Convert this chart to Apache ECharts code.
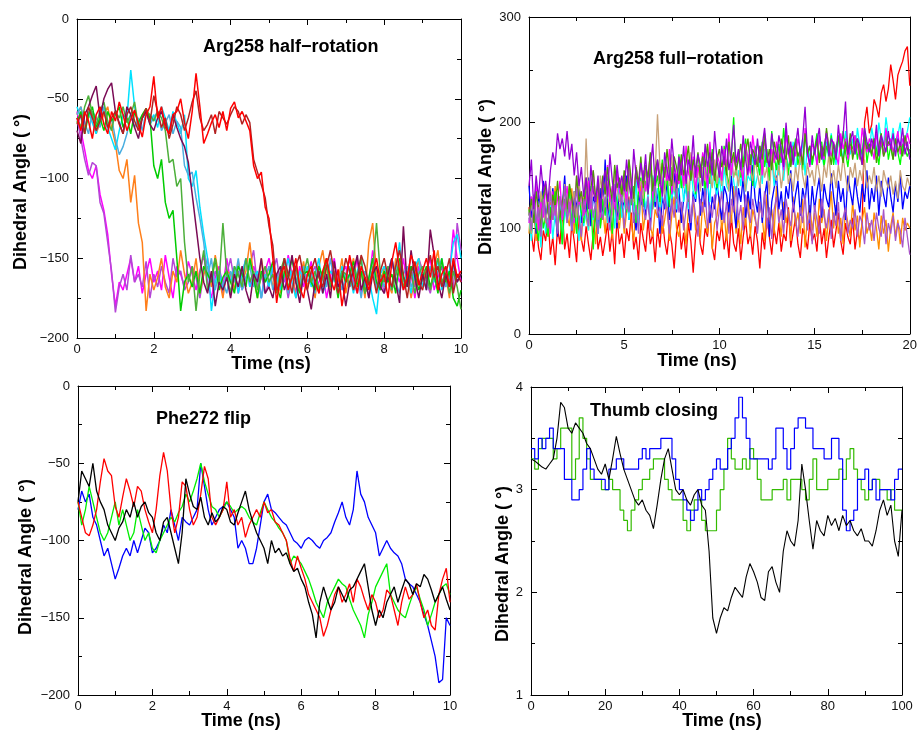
<!DOCTYPE html>
<html><head><meta charset="utf-8">
<script src="https://cdn.jsdelivr.net/npm/echarts@6/dist/echarts.min.js"></script>
<style>html,body{margin:0;padding:0;background:#fff}#c{width:920px;height:732px}</style>
</head><body><div id="c"></div>
<script>
// ---------- Panel 1: Arg258 half-rotation (t = 0..10 ns, step 0.1) ----------
const p1Red = [
-62,-70,-58,-64,-75,-60,-55,-66,-72,-58,
-64,-52,-60,-70,-63,-57,-66,-74,-60,-55,
-36,-62,-55,-68,-72,-60,-58,-50,-65,-75,
-58,-34,-55,-78,-72,-65,-60,-68,-58,-70,
-56,-52,-62,-58,-64,-70,-92,-100,-96,-118,
-125,-150,-178,-160,-155,-170,-162,-150,-168,-175,
-160,-155,-165,-172,-158,-150,-163,-170,-157,-180,
-165,-148,-160,-172,-155,-162,-170,-158,-150,-165,
-160,-175,-152,-140,-158,-170,-162,-148,-155,-167,
-158,-150,-162,-145,-170,-160,-155,-168,-150,-162,
-158];
const p1Firebrick = [
-66,-60,-72,-55,-62,-70,-64,-58,-68,-62,
-58,-66,-72,-60,-55,-64,-70,-62,-56,-65,
-48,-58,-68,-62,-75,-66,-55,-60,-70,-62,
-52,-45,-62,-70,-66,-60,-72,-58,-62,-66,
-60,-55,-58,-66,-60,-65,-88,-96,-104,-112,
-130,-142,-170,-165,-150,-160,-172,-155,-148,-162,
-170,-158,-150,-162,-168,-155,-145,-160,-172,-163,
-150,-158,-170,-162,-148,-155,-167,-160,-172,-158,
-150,-162,-168,-155,-145,-160,-175,-158,-152,-165,
-170,-158,-148,-162,-155,-168,-160,-150,-172,-160,
-165];
const p1Maroon = [
-70,-78,-60,-55,-48,-42,-62,-50,-44,-40,
-58,-65,-72,-55,-60,-68,-75,-62,-58,-66,
-70,-62,-58,-66,-72,-60,-68,-75,-80,-90,
-110,-130,-150,-165,-172,-158,-180,-165,-170,-162,
-175,-160,-168,-155,-170,-178,-160,-165,-150,-172,
-168,-175,-160,-155,-170,-162,-148,-165,-178,-160,
-170,-182,-165,-158,-172,-160,-175,-152,-168,-163,
-180,-165,-158,-148,-170,-162,-175,-160,-155,-168,
-172,-160,-150,-165,-178,-130,-168,-145,-162,-175,
-160,-170,-132,-148,-165,-175,-160,-168,-152,-165,
-160];
const p1Orange = [
-60,-55,-68,-62,-58,-72,-65,-60,-55,-68,
-78,-95,-100,-88,-115,-98,-128,-140,-183,-160,
-170,-162,-150,-168,-175,-158,-165,-145,-160,-172,
-165,-150,-172,-160,-155,-168,-148,-162,-175,-158,
-160,-170,-152,-165,-158,-140,-162,-175,-150,-165,
-155,-168,-160,-172,-150,-162,-158,-175,-165,-152,
-168,-160,-175,-155,-145,-162,-170,-158,-165,-150,
-172,-160,-150,-165,-158,-175,-140,-128,-160,-168,
-155,-165,-172,-150,-160,-168,-158,-175,-162,-150,
-165,-158,-170,-155,-145,-168,-160,-175,-150,-162,
-160];
const p1Magenta = [
-58,-70,-82,-95,-100,-92,-110,-120,-135,-160,
-180,-165,-170,-160,-150,-165,-155,-172,-160,-150,
-165,-158,-170,-148,-162,-175,-155,-160,-168,-152,
-160,-170,-158,-148,-165,-175,-162,-155,-168,-150,
-165,-158,-172,-160,-150,-168,-155,-162,-175,-158,
-150,-162,-170,-158,-165,-148,-160,-172,-155,-168,
-160,-152,-170,-165,-158,-175,-162,-150,-168,-160,
-155,-168,-162,-150,-172,-158,-165,-145,-160,-170,
-162,-155,-170,-158,-165,-150,-168,-160,-175,-155,
-165,-158,-150,-170,-162,-155,-168,-160,-132,-150,
-165];
const p1Orchid = [
-62,-75,-88,-98,-90,-92,-115,-122,-140,-158,
-184,-168,-160,-170,-148,-165,-160,-168,-152,-175,
-160,-168,-155,-165,-172,-150,-162,-158,-170,-165,
-155,-162,-175,-160,-150,-168,-158,-165,-172,-160,
-150,-165,-158,-170,-162,-155,-145,-168,-160,-172,
-165,-158,-150,-168,-160,-175,-162,-155,-170,-158,
-168,-160,-155,-172,-162,-150,-165,-158,-170,-162,
-160,-150,-165,-172,-158,-162,-175,-155,-168,-160,
-172,-160,-150,-165,-158,-170,-162,-155,-168,-150,
-158,-165,-172,-160,-150,-168,-155,-162,-170,-128,
-145];
const p1Cyan = [
-55,-62,-70,-58,-65,-72,-60,-55,-68,-75,
-82,-70,-60,-62,-32,-55,-68,-62,-58,-65,
-60,-68,-55,-62,-70,-58,-65,-72,-60,-100,
-105,-95,-118,-135,-150,-183,-165,-158,-170,-160,
-165,-155,-172,-160,-150,-168,-162,-158,-175,-160,
-168,-155,-162,-170,-160,-150,-165,-175,-158,-162,
-155,-168,-160,-150,-172,-165,-158,-162,-170,-155,
-165,-160,-172,-158,-150,-168,-162,-175,-185,-160,
-155,-162,-170,-158,-140,-165,-160,-172,-155,-150,
-168,-160,-155,-165,-150,-170,-162,-158,-140,-135,
-150];
const p1SkyBlue = [
-60,-55,-65,-72,-58,-62,-68,-55,-70,-62,
-75,-85,-80,-72,-60,-68,-62,-70,-58,-66,
-62,-58,-70,-65,-60,-72,-64,-68,-92,-98,
-96,-112,-125,-140,-162,-150,-170,-158,-165,-172,
-158,-165,-150,-170,-162,-155,-168,-160,-175,-162,
-155,-170,-160,-165,-150,-172,-158,-162,-168,-155,
-165,-160,-172,-155,-162,-168,-150,-165,-158,-170,
-162,-155,-168,-160,-175,-158,-165,-150,-170,-160,
-168,-158,-150,-165,-172,-160,-155,-168,-162,-158,
-160,-170,-155,-165,-158,-150,-168,-162,-155,-165,
-160];
const p1Green = [
-65,-58,-72,-60,-55,-68,-62,-70,-58,-64,
-60,-55,-68,-62,-72,-58,-65,-60,-56,-62,
-92,-100,-88,-115,-125,-120,-150,-183,-165,-160,
-168,-158,-172,-155,-160,-165,-150,-170,-162,-158,
-165,-172,-155,-160,-168,-150,-162,-175,-158,-165,
-160,-152,-168,-175,-158,-162,-150,-165,-172,-160,
-158,-165,-170,-155,-162,-150,-168,-160,-175,-158,
-165,-160,-152,-168,-158,-172,-162,-150,-165,-170,
-158,-165,-160,-172,-150,-162,-168,-155,-160,-170,
-162,-155,-168,-160,-172,-150,-165,-158,-175,-180,
-170];
const p1SeaGreen = [
-62,-68,-55,-48,-60,-66,-58,-52,-64,-70,
-58,-62,-55,-65,-60,-52,-68,-62,-58,-60,
-64,-58,-62,-70,-90,-88,-105,-100,-140,-165,
-155,-183,-160,-145,-170,-162,-150,-165,-128,-160,
-172,-155,-160,-168,-150,-165,-158,-170,-162,-155,
-165,-160,-172,-158,-150,-168,-162,-155,-170,-160,
-150,-165,-158,-170,-162,-155,-168,-160,-172,-158,
-160,-168,-155,-162,-150,-172,-165,-158,-128,-160,
-165,-155,-170,-160,-152,-168,-162,-158,-172,-160,
-155,-162,-170,-158,-150,-165,-160,-172,-158,-168,
-182];

// ---------- Panel 2: Arg258 full-rotation (t = 0..20 ns, step 0.125) ----------
const p2Red = [
120,95,78,105,82,70,98,88, 110,75,92,65,100,85,118,80,
95,72,105,88,68,112,90,78, 102,85,70,96,115,80,92,74,
88,105,78,98,66,110,85,95, 72,100,88,115,80,92,70,105,
90,78,108,85,95,68,100,82, 112,88,75,98,85,62,95,108,
80,96,72,105,88,58,92,110, 85,75,100,92,118,82,70,98,
88,105,80,95,72,112,86,78, 100,70,92,108,85,95,75,102,
88,62,96,80,110,92,75,100, 85,105,78,95,88,120,82,96,
110,85,72,100,92,80,105,88, 95,78,112,85,100,72,92,108,
82,98,115,88,75,105,92,85, 110,80,98,88,105,200,215,190,
198,222,215,205,228,236,220,232, 255,240,222,245,252,258,268,272,
235];
const p2Orange = [
95,130,118,88,122,100,138,112, 92,125,108,140,98,118,85,128,
112,102,138,95,120,105,88,132, 110,98,125,115,85,140,102,118,
95,128,108,90,135,112,100,125, 95,115,130,105,88,120,110,145,
98,115,128,102,92,118,110,135, 95,108,125,88,112,130,100,92,
122,108,85,118,105,128,98,112, 90,125,108,95,118,80,105,112,
130,98,115,88,125,105,140,95, 112,85,120,102,135,92,118,108,
98,125,110,88,132,105,118,95, 140,112,92,125,105,118,88,130,
102,115,95,128,82,110,122,98, 115,92,128,105,118,88,112,135,
100,122,95,110,85,118,105,92, 125,98,112,82,108,120,95,105,
88,115,100,80,112,95,108,78, 102,115,92,108,85,110,98,105,
100];
const p2Blue = [
140,110,125,95,132,118,145,105, 128,100,138,115,92,130,120,150,
108,125,98,135,118,142,105,128, 115,148,102,130,122,95,138,112,
165,120,105,135,128,100,145,118, 125,150,108,138,115,98,132,122,
140,112,128,105,148,120,135,95, 130,118,145,108,125,152,115,138,
105,128,142,118,98,135,125,148, 112,138,120,155,105,130,118,142,
125,108,140,132,115,150,122,100, 138,125,148,110,135,118,160,128,
115,142,105,130,145,92,125,138, 150,118,135,108,140,128,155,115,
132,145,112,138,125,150,105,140, 118,135,148,110,142,128,120,152,
130,112,145,125,138,108,150,135, 122,148,130,115,142,125,155,118,
138,125,150,112,145,132,120,148, 130,115,142,125,150,118,135,128,
140];
const p2Cyan = [
110,88,125,100,118,82,130,95, 108,122,90,115,100,128,85,118,
105,132,98,120,110,88,125,102, 115,98,140,108,125,95,120,112,
128,105,118,135,100,125,145,110, 120,138,108,130,115,145,102,128,
140,118,132,110,150,125,138,115, 130,145,120,155,128,140,118,135,
150,125,142,118,158,135,128,148, 138,155,130,145,125,162,140,132,
148,128,158,140,135,165,145,130, 155,140,168,135,150,145,172,138,
150,165,142,175,155,148,168,140, 162,150,178,145,170,158,165,182,
155,172,160,185,150,178,168,160, 175,162,188,170,158,182,165,190,
172,160,185,178,165,192,175,170, 185,170,195,178,168,190,180,172,
195,182,170,200,185,178,205,188, 180,195,175,188,200,170,185,192,
205];
const p2Green = [
118,95,125,105,88,130,100,112, 92,120,108,135,98,115,85,128,
110,140,102,122,95,130,115,105, 135,108,125,80,118,142,100,128,
112,150,120,95,138,125,108,145, 130,115,155,122,140,105,135,148,
120,145,132,160,118,138,150,125, 165,135,148,120,158,140,128,170,
138,155,145,125,165,150,132,160, 148,170,135,158,142,175,150,138,
162,145,178,155,140,168,205,150, 172,148,160,185,155,170,140,178,
165,150,182,158,175,145,192,168, 155,180,162,195,170,150,178,165,
185,160,172,155,190,168,178,160, 175,190,165,182,158,178,170,188,
160,178,185,168,192,172,158,180, 175,188,165,180,170,195,162,178,
168,185,175,160,182,170,190,165, 178,165,185,172,160,180,175,168,
175];
const p2DarkViolet = [
140,165,118,150,128,160,135,145, 125,155,172,160,190,175,185,168,
192,165,180,150,172,140,158,130, 148,118,160,135,125,150,115,142,
155,130,170,145,125,160,138,150, 135,165,142,128,175,150,138,162,
145,170,132,158,180,140,165,150, 130,172,155,145,185,160,138,168,
150,178,142,165,155,188,148,170, 160,140,180,158,172,150,192,165,
148,178,160,185,155,170,198,162, 175,155,188,165,150,182,170,160,
185,162,178,195,168,158,190,172, 165,188,175,158,200,170,182,160,
178,195,168,185,215,172,160,188, 170,182,195,165,178,190,168,185,
180,165,198,175,188,220,170,182, 192,170,185,178,160,195,182,172,
185,175,198,168,188,180,172,192, 175,190,168,185,178,195,170,182,
165];
const p2Magenta = [
105,130,118,142,98,125,110,138, 120,95,135,112,128,145,108,122,
140,115,130,105,150,122,135,112, 128,145,118,155,125,138,110,148,
132,160,125,140,118,152,135,128, 148,122,165,138,130,158,142,125,
155,135,150,170,128,145,162,140, 138,158,145,175,132,160,150,142,
165,140,178,152,145,168,135,158, 150,172,160,138,182,155,148,170,
162,145,175,158,190,150,168,155, 172,158,145,180,165,152,188,170,
160,178,150,185,168,158,175,162, 182,165,172,155,190,170,160,178,
168,185,175,162,195,172,158,180, 175,160,188,172,165,192,178,168,
182,170,160,190,175,185,165,178, 170,188,178,165,195,180,172,185,
178,165,190,175,182,168,195,178, 185,172,180,192,170,185,178,190,
180];
const p2Tan = [
110,95,128,112,100,135,118,105, 122,140,108,125,98,130,115,142,
105,128,118,135,110,145,122,112, 185,130,118,140,125,108,150,132,
120,145,128,112,155,138,125,148, 132,118,150,140,125,160,135,145,
128,155,140,165,135,150,208,160, 145,130,158,140,170,135,150,142,
165,138,155,128,172,148,140,160, 135,158,145,178,150,138,165,142,
155,140,168,150,135,172,148,158, 140,162,150,135,170,155,145,165,
152,138,165,148,158,132,170,150, 145,160,138,155,168,142,152,135,
158,145,170,150,138,162,148,155, 140,165,152,135,160,148,170,142,
155,138,160,145,168,150,135,158, 148,162,140,155,145,165,138,150,
142,158,135,150,130,155,145,138, 150,132,145,128,155,140,135,148,
140];
const p2Orchid = [
115,98,132,105,120,92,128,110, 100,135,108,122,95,130,112,140,
105,125,98,118,138,108,92,128, 115,102,135,110,125,95,120,108,
130,112,98,125,142,105,118,132, 100,128,115,138,105,122,95,135,
118,108,130,98,125,145,112,120, 102,132,118,95,128,110,140,115,
125,98,118,135,105,130,112,92, 128,115,138,100,122,110,132,98,
118,135,105,125,95,128,115,140, 108,122,98,132,115,105,128,112,
95,125,110,135,100,120,90,118, 130,105,118,95,128,112,102,125,
110,92,120,105,132,98,115,85, 122,108,95,128,112,100,118,90,
115,102,125,88,110,120,95,108, 100,118,92,112,105,85,115,98,
108,88,115,100,92,118,85,105, 95,112,88,105,98,82,110,92,
75];
const p2Olive = [
112,128,105,135,118,100,130,142, 115,108,132,120,145,110,125,138,
118,142,128,110,150,125,135,118, 148,122,138,155,128,142,115,150,
132,158,140,125,160,138,148,130, 155,135,165,145,128,158,142,168,
138,160,148,172,135,155,165,142, 162,148,175,152,140,168,158,145,
170,150,162,178,145,165,155,172, 148,168,158,180,152,172,145,165,
175,158,168,150,182,162,172,155, 165,180,158,172,185,160,175,168,
158,178,165,190,162,175,155,182, 170,160,185,172,165,188,158,175,
182,168,175,160,190,170,178,165, 172,185,162,178,168,195,175,160,
180,168,188,175,162,182,170,190, 165,178,185,170,160,188,175,180,
170,185,162,178,190,168,175,182, 178,165,185,172,180,168,188,175,
170];

// ---------- Panel 3: Phe272 flip (t = 0..10 ns, step 0.1) ----------
const p3Red = [
-75,-85,-95,-97,-90,-80,-62,-47,-55,-58,
-78,-85,-72,-60,-68,-78,-65,-68,-80,-88,
-95,-80,-58,-43,-55,-80,-95,-85,-62,-65,
-80,-90,-85,-70,-52,-60,-85,-90,-85,-80,
-62,-85,-80,-90,-85,-98,-90,-85,-80,-85,
-75,-82,-80,-88,-90,-95,-100,-112,-120,-110,
-118,-125,-135,-140,-145,-150,-162,-155,-145,-135,
-130,-140,-135,-128,-140,-125,-130,-138,-145,-135,
-140,-150,-145,-132,-135,-145,-155,-140,-130,-138,
-135,-128,-140,-150,-145,-155,-158,-135,-125,-118,
-140];
const p3Black = [
-75,-55,-60,-65,-50,-68,-75,-80,-90,-95,
-100,-92,-88,-80,-85,-75,-85,-78,-75,-82,
-85,-95,-100,-88,-85,-95,-105,-115,-95,-60,
-70,-78,-80,-72,-85,-90,-82,-88,-85,-78,
-80,-88,-90,-82,-75,-68,-80,-88,-95,-100,
-105,-115,-100,-108,-105,-110,-108,-115,-120,-118,
-125,-130,-140,-148,-163,-140,-130,-138,-145,-140,
-130,-135,-140,-132,-130,-125,-120,-115,-130,-145,
-155,-145,-150,-140,-135,-130,-140,-132,-125,-128,
-135,-128,-130,-122,-125,-132,-140,-135,-130,-138,
-145];
const p3Green = [
-75,-90,-80,-65,-75,-85,-95,-100,-95,-85,
-75,-90,-80,-90,-100,-95,-80,-90,-100,-95,
-105,-108,-100,-95,-90,-85,-88,-82,-78,-70,
-75,-68,-60,-50,-62,-70,-78,-80,-85,-80,
-75,-78,-82,-80,-78,-80,-85,-88,-90,-82,
-75,-80,-85,-88,-92,-95,-100,-115,-110,-112,
-115,-120,-125,-132,-140,-145,-150,-140,-135,-130,
-125,-128,-130,-138,-145,-150,-155,-163,-148,-140,
-130,-125,-120,-115,-135,-140,-145,-148,-150,-142,
-135,-130,-138,-145,-155,-148,-140,-135,-130,-128,
-135];
const p3Blue = [
-80,-68,-75,-70,-85,-90,-100,-110,-105,-115,
-125,-118,-110,-105,-110,-100,-108,-100,-92,-95,
-108,-105,-100,-90,-95,-80,-90,-100,-85,-88,
-90,-85,-80,-50,-65,-80,-90,-85,-80,-78,
-75,-80,-85,-105,-100,-105,-115,-115,-105,-90,
-75,-70,-80,-82,-85,-88,-90,-95,-100,-102,
-105,-100,-98,-100,-103,-105,-100,-98,-95,-88,
-82,-75,-85,-90,-80,-55,-70,-75,-85,-90,
-95,-110,-105,-100,-105,-108,-110,-115,-125,-128,
-130,-135,-140,-148,-155,-165,-175,-192,-190,-150,
-155];

// ---------- Panel 4: Thumb closing (t = 0..100 ns, step 1) ----------
const p4Black = [
3.3,3.28,3.25,3.22,3.2,3.25,3.3,3.5,3.85,3.8,
3.6,3.55,3.65,3.6,3.55,3.45,3.4,3.3,3.2,3.15,
3.25,3.1,3.3,3.52,3.35,3.2,3.1,3.0,2.9,2.85,
2.9,2.8,2.75,2.62,2.85,3.1,3.3,3.4,3.2,3.0,
2.95,3.0,2.9,2.85,2.95,3.0,2.85,2.8,2.4,1.75,
1.6,1.75,1.85,1.82,1.95,2.05,2.0,1.95,2.15,2.28,
2.2,2.1,1.95,1.92,2.2,2.25,2.1,2.0,2.4,2.6,
2.5,2.45,2.7,3.25,3.0,2.7,2.42,2.7,2.6,2.55,
2.75,2.65,2.72,2.6,2.75,2.65,2.7,2.6,2.55,2.62,
2.5,2.5,2.45,2.6,2.8,2.9,2.75,2.85,2.5,2.35,
2.8];
const p4Blue = [
3.4,3.3,3.5,3.4,3.5,3.6,3.4,3.4,3.4,3.1,
3.1,2.9,2.9,3.0,3.2,3.4,3.2,3.1,3.1,3.1,
3.0,3.2,3.2,3.3,3.3,3.2,3.2,3.2,3.2,3.3,
3.4,3.3,3.4,3.4,3.4,3.5,3.5,3.5,3.3,3.1,
3.0,2.9,2.8,2.7,2.8,3.0,2.9,3.0,3.1,3.2,
3.3,3.2,3.2,3.4,3.5,3.7,3.9,3.7,3.5,3.3,
3.3,3.3,3.3,3.3,3.2,3.3,3.6,3.6,3.4,3.2,
3.4,3.6,3.7,3.7,3.6,3.6,3.4,3.4,3.4,3.3,
3.3,3.5,3.5,3.3,2.8,2.6,2.7,2.8,3.1,3.1,
3.2,3.0,3.1,2.9,3.0,3.0,3.0,2.9,3.1,3.2,
3.2];
const p4Green = [
3.3,3.2,3.4,3.5,3.5,3.5,3.3,3.4,3.6,3.6,
3.6,3.1,3.3,3.7,3.5,3.3,3.1,3.1,3.1,3.0,
3.0,3.1,3.0,3.0,2.8,2.7,2.6,2.8,2.9,3.0,
3.1,3.1,3.2,3.3,3.3,3.3,3.1,3.0,2.9,2.9,
2.9,2.7,2.6,2.8,2.9,2.9,2.7,2.6,2.6,2.6,
2.8,3.0,3.2,3.5,3.3,3.2,3.2,3.3,3.2,3.4,
3.3,3.1,2.9,2.9,2.9,3.0,3.0,3.0,3.1,2.9,
3.1,3.1,3.1,3.0,2.9,3.1,3.3,3.0,3.0,3.0,
3.1,3.1,3.1,3.2,3.1,3.3,3.4,3.2,3.1,3.0,
2.9,3.0,3.1,3.1,3.0,3.0,2.9,3.0,2.8,2.8,
2.8];

// ---------- text ----------
const panelTitles = ['Arg258 half\u2212rotation', 'Arg258 full\u2212rotation', 'Phe272 flip', 'Thumb closing'];
const xTitle = 'Time (ns)';
const yTitle = 'Dihedral Angle ( \u00b0)';

// ---------- helpers ----------
const FONT = '"Liberation Sans", Arial, Helvetica, sans-serif';
function timesFor(arr, step) { return arr.map((_, i) => Math.round(i * step * 1000) / 1000); }
function pairs(arr, step) { const t = timesFor(arr, step); return arr.map((v, i) => [t[i], v]); }
const fmt = v => String(v).replace('-', '\u2212');

const grids = [
  { left: 77, top: 19, width: 384, height: 319 },
  { left: 529, top: 17, width: 383, height: 317 },
  { left: 78, top: 386, width: 372, height: 309 },
  { left: 531, top: 387, width: 371, height: 308 }
];
const ranges = [
  { x: [0, 10, 2], y: [-200, 0, 50] },
  { x: [0, 20, 5], y: [0, 300, 100] },
  { x: [0, 10, 2], y: [-200, 0, 50] },
  { x: [0, 100, 20], y: [1, 4, 1] }
];

const xAxes = [], yAxes = [];
ranges.forEach((r, gi) => {
  ['bottom', 'top'].forEach((pos, k) => {
    xAxes.push({
      type: 'value', gridIndex: gi, position: pos, min: r.x[0], max: r.x[1], interval: r.x[2],
      axisLine: { show: true, onZero: false, lineStyle: { color: '#000', width: 1 } },
      axisTick: { show: true, inside: true, length: 6, lineStyle: { color: '#000' } },
      minorTick: { show: true, splitNumber: 2, length: 4, lineStyle: { color: '#000' } },
      splitLine: { show: false },
      axisLabel: { show: k === 0, formatter: fmt, color: '#111', fontSize: 13, fontFamily: FONT, margin: 5 }
    });
  });
  ['left', 'right'].forEach((pos, k) => {
    yAxes.push({
      type: 'value', gridIndex: gi, position: pos, min: r.y[0], max: r.y[1], interval: r.y[2],
      axisLine: { show: true, onZero: false, lineStyle: { color: '#000', width: 1 } },
      axisTick: { show: true, inside: true, length: 6, lineStyle: { color: '#000' } },
      minorTick: { show: true, splitNumber: 2, length: 4, lineStyle: { color: '#000' } },
      splitLine: { show: false },
      axisLabel: { show: k === 0, formatter: fmt, color: '#111', fontSize: 13, fontFamily: FONT, margin: 8 }
    });
  });
});

const series = [];
function addLine(gi, arr, step, color, width, extra) {
  series.push(Object.assign({
    type: 'line', xAxisIndex: gi * 2, yAxisIndex: gi * 2, data: pairs(arr, step),
    showSymbol: false, symbol: 'none', silent: true, animation: false,
    lineStyle: { color: color, width: width }
  }, extra || {}));
}
// panel 1
[[p1Magenta, '#ff00ff'], [p1Orchid, '#b546d6'], [p1Orange, '#ff7f1a'], [p1Cyan, '#00e1ff'],
 [p1SkyBlue, '#4aaee0'], [p1Green, '#00cc00'], [p1SeaGreen, '#4caf3a'], [p1Maroon, '#7a0a55'],
 [p1Firebrick, '#b22222'], [p1Red, '#ff0000']].forEach(([a, c]) => addLine(0, a, 0.1, c, 1.5));
// panel 2
[[p2Red, '#ff0000'], [p2Orange, '#ff8c00'], [p2Blue, '#0000ff'], [p2Cyan, '#00ffff'],
 [p2Green, '#00ff00'], [p2Tan, '#c8a27a'], [p2Magenta, '#ff00ff'], [p2Olive, '#4a9900'],
 [p2Orchid, '#a855c8'], [p2DarkViolet, '#9400d3']].forEach(([a, c]) => addLine(1, a, 0.125, c, 1.3));
// panel 3
[[p3Blue, '#0000ff'], [p3Green, '#00ee00'], [p3Red, '#ff0000'], [p3Black, '#000000']]
  .forEach(([a, c]) => addLine(2, a, 0.1, c, 1.3));
// panel 4
addLine(3, p4Green, 1, '#33bb00', 1.2, { step: 'end' });
addLine(3, p4Blue, 1, '#0000ff', 1.2, { step: 'end' });
addLine(3, p4Black, 1, '#000000', 1.1);

function txt(s, x, y, rot, align) {
  return { type: 'text', x: x, y: y, rotation: rot || 0, silent: true, z: 100,
    style: { text: s, fill: '#000', font: 'bold 18px ' + FONT, align: align || 'center', verticalAlign: 'middle' } };
}
const graphic = [
  txt(panelTitles[0], 203, 47, 0, 'left'),
  txt(panelTitles[1], 593, 59, 0, 'left'),
  txt(panelTitles[2], 156, 419, 0, 'left'),
  txt(panelTitles[3], 590, 411, 0, 'left'),
  txt(xTitle, 271, 364), txt(xTitle, 697, 361), txt(xTitle, 241, 721), txt(xTitle, 722, 721),
  txt(yTitle, 21, 192, Math.PI / 2), txt(yTitle, 486, 177, Math.PI / 2),
  txt(yTitle, 26, 557, Math.PI / 2), txt(yTitle, 503, 564, Math.PI / 2)
];

const chart = echarts.init(document.getElementById('c'), null, { renderer: 'canvas' });
chart.setOption({
  backgroundColor: '#fff', animation: false,
  grid: grids.map(g => Object.assign({ containLabel: false, show: false }, g)),
  xAxis: xAxes, yAxis: yAxes, series: series, graphic: graphic
});
</script></body></html>
